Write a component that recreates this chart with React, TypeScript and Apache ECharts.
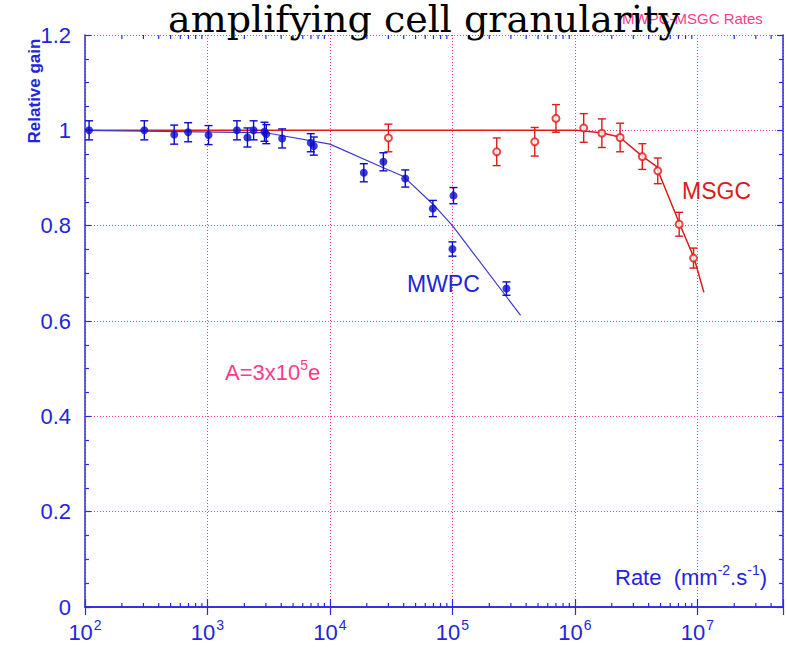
import React, { useEffect, useRef } from 'react';
import * as echarts from 'echarts';

// MWPC measurements (filled circles)
const mwpcRate = [108, 305, 535, 695, 1020, 1740, 2120, 2380, 2920, 3020, 4070, 6970, 7380, 18900, 27300, 41200, 69200, 102000, 100000, 276000];
const mwpcGain = [1.0, 1.0, 0.991, 0.996, 0.99, 1.0, 0.985, 1.0, 0.997, 0.992, 0.983, 0.974, 0.967, 0.911, 0.934, 0.899, 0.836, 0.863, 0.751, 0.668];
const mwpcErr = [0.02, 0.02, 0.02, 0.02, 0.02, 0.02, 0.02, 0.02, 0.02, 0.02, 0.02, 0.019, 0.019, 0.019, 0.019, 0.018, 0.017, 0.017, 0.015, 0.014];

// MSGC measurements (open circles)
const msgcRate = [30000, 230000, 470000, 700000, 1180000, 1660000, 2340000, 3550000, 4750000, 7100000, 9300000];
const msgcGain = [0.984, 0.955, 0.976, 1.025, 1.005, 0.994, 0.985, 0.945, 0.915, 0.803, 0.732];
const msgcErr = [0.029, 0.029, 0.03, 0.029, 0.03, 0.03, 0.03, 0.027, 0.027, 0.025, 0.021];

// Fit curves
const mwpcFitRate = [100, 3000, 10000, 27000, 40000, 70000, 100000, 360000];
const mwpcFitGain = [1.0, 0.995, 0.971, 0.922, 0.903, 0.844, 0.8, 0.612];
const msgcFitRate = [100, 1030000, 1640000, 2310000, 3540000, 4600000, 7100000, 9400000, 11300000];
const msgcFitGain = [1.0, 1.0, 0.995, 0.986, 0.946, 0.925, 0.806, 0.732, 0.66];

// Axis ticks
const rateDecades = [100, 1000, 10000, 100000, 1000000, 10000000];
const minorMultipliers = [2, 3, 4, 5, 6, 7, 8, 9];
const rateMin = 100;
const rateMax = 50000000;
const gainMin = 0;
const gainMax = 1.2;
const gainStep = 0.2;

const AXIS = '#2a2ae0';
const TEXT_BLUE = '#2424dc';
const PINK = '#ff3a8c';
const GRID_PINK = '#ff3399';
const BLUE_PT = '#0a0acc';
const BLUE_LINE = '#3a3ad0';
const RED = '#e01a1a';
const SANS = '"Liberation Sans", Arial, sans-serif';

const minorRates: number[][] = [];
rateDecades.forEach((d) => {
  minorMultipliers.forEach((m) => {
    const v = d * m;
    if (v < rateMax) minorRates.push([v, 0]);
  });
});

const zip3 = (a: number[], b: number[], c: number[]) => a.map((v, i) => [v, b[i], c[i]]);
const zip2 = (a: number[], b: number[]) => a.map((v, i) => [v, b[i]]);

const errorBarItem = (color: string) => (params: any, api: any) => {
  const x = api.value(0);
  const y = api.value(1);
  const e = api.value(2);
  const hi = api.coord([x, y + e]);
  const lo = api.coord([x, y - e]);
  const cw = 4;
  const st = { stroke: color, lineWidth: 1.4 };
  return {
    type: 'group',
    children: [
      { type: 'line', shape: { x1: hi[0], y1: hi[1], x2: lo[0], y2: lo[1] }, style: st },
      { type: 'line', shape: { x1: hi[0] - cw, y1: hi[1], x2: hi[0] + cw, y2: hi[1] }, style: st },
      { type: 'line', shape: { x1: lo[0] - cw, y1: lo[1], x2: lo[0] + cw, y2: lo[1] }, style: st },
    ],
  };
};

const xLabel = (v: number) => {
  const l = Math.log10(v);
  const e = Math.round(l);
  if (Math.abs(l - e) > 1e-6) return '';
  return `{b|10}{s|${e}}`;
};

export default function App() {
  const ref = useRef<HTMLDivElement>(null);
  useEffect(() => {
    document.body.style.margin = '0';
    if (!ref.current) return;
    const chart = echarts.init(ref.current, undefined, { renderer: 'svg' });
    const axisLineStyle = { color: AXIS, width: 1.5 };
    const option: any = {
      animation: false,
      backgroundColor: '#fff',
      grid: { left: 85, right: 4, top: 35, bottom: 41, outerBoundsMode: 'none', containLabel: false },
      xAxis: [
        {
          type: 'log',
          logBase: 10,
          min: rateMin,
          max: rateMax,
          position: 'bottom',
          axisLine: { show: true, lineStyle: axisLineStyle },
          axisTick: { show: true, inside: true, length: 8, lineStyle: { color: AXIS, width: 1.2 } },
          minorTick: { show: false },
          splitLine: { show: true, lineStyle: { color: GRID_PINK, type: [1, 2], width: 1 } },
          axisLabel: {
            margin: 11,
            formatter: xLabel,
            rich: {
              b: { fontFamily: SANS, fontSize: 22, color: TEXT_BLUE },
              s: { fontFamily: SANS, fontSize: 14, color: TEXT_BLUE, padding: [0, 0, 14, 1] },
            },
          },
        },
        {
          type: 'log',
          logBase: 10,
          min: rateMin,
          max: rateMax,
          position: 'top',
          axisLine: { show: true, lineStyle: axisLineStyle },
          axisTick: { show: true, inside: true, length: 8, lineStyle: { color: AXIS, width: 1.2 } },
          splitLine: { show: false },
          axisLabel: { show: false },
        },
      ],
      yAxis: [
        {
          type: 'value',
          min: gainMin,
          max: gainMax,
          interval: gainStep,
          position: 'left',
          axisLine: { show: true, lineStyle: axisLineStyle },
          axisTick: { show: true, inside: true, length: 6, lineStyle: { color: AXIS, width: 1.2 } },
          minorTick: { show: true, splitNumber: 4, length: 4, lineStyle: { color: AXIS, width: 1.2 } },
          splitLine: { show: true, lineStyle: { color: GRID_PINK, type: [1, 2], width: 1 } },
          axisLabel: { margin: 14, fontFamily: SANS, fontSize: 22, color: TEXT_BLUE },
        },
        {
          type: 'value',
          min: gainMin,
          max: gainMax,
          interval: gainStep,
          position: 'right',
          axisLine: { show: true, lineStyle: axisLineStyle },
          axisTick: { show: true, inside: true, length: 6, lineStyle: { color: AXIS, width: 1.2 } },
          minorTick: { show: true, splitNumber: 4, length: 4, lineStyle: { color: AXIS, width: 1.2 } },
          splitLine: { show: false },
          axisLabel: { show: false },
        },
      ],
      series: [
        {
          type: 'custom',
          name: 'minorTicks',
          clip: false,
          silent: true,
          z: 5,
          renderItem: (params: any, api: any) => {
            const v = api.value(0);
            const b = api.coord([v, gainMin]);
            const t = api.coord([v, gainMax]);
            const st = { stroke: AXIS, lineWidth: 1.2 };
            return {
              type: 'group',
              children: [
                { type: 'line', shape: { x1: b[0], y1: b[1], x2: b[0], y2: b[1] - 4 }, style: st },
                { type: 'line', shape: { x1: t[0], y1: t[1], x2: t[0], y2: t[1] + 4 }, style: st },
              ],
            };
          },
          data: minorRates,
        },
        {
          type: 'line',
          name: 'MSGC fit',
          data: zip2(msgcFitRate, msgcFitGain),
          showSymbol: false,
          symbol: 'none',
          lineStyle: { color: RED, width: 1.5 },
          z: 2,
        },
        {
          type: 'line',
          name: 'MWPC fit',
          data: zip2(mwpcFitRate, mwpcFitGain),
          showSymbol: false,
          symbol: 'none',
          lineStyle: { color: BLUE_LINE, width: 1.2 },
          z: 3,
        },
        {
          type: 'custom',
          name: 'MSGC err',
          renderItem: errorBarItem(RED),
          data: zip3(msgcRate, msgcGain, msgcErr),
          z: 4,
        },
        {
          type: 'custom',
          name: 'MWPC err',
          renderItem: errorBarItem(BLUE_PT),
          data: zip3(mwpcRate, mwpcGain, mwpcErr),
          z: 4,
        },
        {
          type: 'scatter',
          name: 'MSGC',
          data: zip2(msgcRate, msgcGain),
          symbol: 'emptyCircle',
          symbolSize: 7,
          itemStyle: { color: RED, borderColor: RED, borderWidth: 1.2 },
          z: 6,
        },
        {
          type: 'scatter',
          name: 'MWPC',
          data: zip2(mwpcRate, mwpcGain),
          symbol: 'circle',
          symbolSize: 8,
          itemStyle: { color: BLUE_PT },
          z: 6,
        },
      ],
      graphic: [
        {
          type: 'text',
          z: 100,
          left: 622,
          top: 11,
          style: { text: 'MWPC-MSGC Rates', font: `15px ${SANS}`, fill: PINK },
        },
        {
          type: 'text',
          z: 101,
          x: 424,
          y: 19,
          style: {
            text: 'amplifying cell granularity',
            font: '38px "DejaVu Serif", serif',
            fill: '#000',
            align: 'center',
            verticalAlign: 'middle',
          },
        },
        {
          type: 'text',
          z: 100,
          x: 34,
          y: 91,
          rotation: Math.PI / 2,
          style: {
            text: 'Relative gain',
            font: `bold 17px ${SANS}`,
            fill: TEXT_BLUE,
            align: 'center',
            verticalAlign: 'middle',
          },
        },
        {
          type: 'text',
          z: 100,
          x: 407,
          y: 284,
          style: { text: 'MWPC', font: `23px ${SANS}`, fill: TEXT_BLUE, verticalAlign: 'middle' },
        },
        {
          type: 'text',
          z: 100,
          x: 682,
          y: 191,
          style: { text: 'MSGC', font: `23px ${SANS}`, fill: RED, verticalAlign: 'middle' },
        },
        {
          type: 'text',
          z: 100,
          x: 225,
          y: 372,
          style: {
            text: '{a|A=3x10}{s|5}{a|e}',
            verticalAlign: 'middle',
            rich: {
              a: { fontFamily: SANS, fontSize: 22, fill: PINK, color: PINK },
              s: { fontFamily: SANS, fontSize: 14, fill: PINK, color: PINK, padding: [0, 0, 14, 0] },
            },
          },
        },
        {
          type: 'text',
          z: 100,
          x: 615,
          y: 577,
          style: {
            text: '{a|Rate  (mm}{s|-2}{a|.s}{s|-1}{a|)}',
            verticalAlign: 'middle',
            rich: {
              a: { fontFamily: SANS, fontSize: 22, fill: TEXT_BLUE, color: TEXT_BLUE },
              s: { fontFamily: SANS, fontSize: 14, fill: TEXT_BLUE, color: TEXT_BLUE, padding: [0, 0, 14, 0] },
            },
          },
        },
      ],
    };
    chart.setOption(option);
    return () => chart.dispose();
  }, []);
  return <div ref={ref} style={{ width: 787, height: 648 }} />;
}
